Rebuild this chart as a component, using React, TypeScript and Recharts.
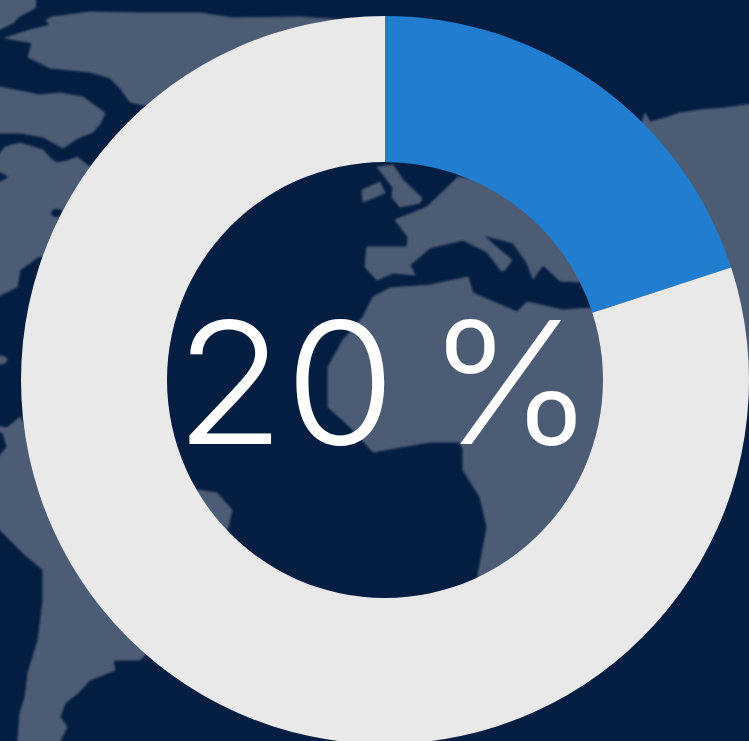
import { PieChart, Pie, Cell, Label } from 'recharts'

const segmentNames = ['Logrado', 'Restante']
const segmentValues = [20, 80]
const segmentColors = ['#217dd0', '#e9e9e9']

const NAVY = '#041e42'
const LAND = '#4e5c74'

// Mapa de fondo: solo decoración, en coordenadas de pantalla.
const landShapes = [
  // norte, arriba a la izquierda
  '-10,-10 37,-10 35,8 20,16 13,23 -10,34',
  '5,38 30,30 50,25 46,20 52,17 90,12 140,13 200,13 233,18 300,17 420,25 300,110 143,105 130,102 120,88 110,78 90,72 70,70 50,68 38,62 28,57 32,43',
  '-10,85 15,90 40,95 60,93 83,97 105,113 100,124 93,132 78,138 63,148 43,137 20,133 -10,133',
  '5,147 20,143 30,146 43,150 50,158 57,163 67,161 77,157 90,167 140,240 38,257 20,270 17,287 -10,300 -10,187 10,177 -10,167',
  // sudamérica
  '-10,425 7,428 20,417 33,440 200,600 140,660 113,660 115,670 90,680 78,693 65,703 60,717 67,727 55,751 17,751 20,713 25,697 28,673 38,640 43,600 43,570 23,553 10,540 -10,520 -10,467 7,447 3,433 -10,428',
  '197,490 217,493 232,510 228,528 226,530 150,530',
  // islas británicas
  '377,167 393,165 403,180 422,198 420,203 400,207 392,197 393,188 385,177',
  '362,190 380,182 385,193 363,202',
  // europa
  '395,220 427,207 458,177 480,180 620,120 640,250 580,282 560,281 543,265 533,279 527,263 513,243 483,235 500,250 512,260 505,270 502,270 502,272 487,252 463,240 430,248 410,265 415,275 393,273 377,280 365,267 367,247 407,247 408,237',
  // áfrica
  '363,317 373,297 390,288 430,285 468,277 473,293 517,312 527,302 563,310 590,308 640,330 700,560 480,600 478,575 487,527 480,497 463,470 463,450 460,442 430,442 373,452 350,427 328,407 328,367 343,340',
  // asia, arriba a la derecha
  '645,113 650,122 665,118 680,113 700,110 725,108 759,103 759,397 700,397 640,130',
]

export default function App() {
  return (
    <div style={{ position: 'fixed', left: 0, top: 0, width: 749, height: 741, overflow: 'hidden', background: NAVY }}>
      <svg width={749} height={741} style={{ position: 'absolute', left: 0, top: 0 }}>
        <defs>
          <filter id="suave" filterUnits="userSpaceOnUse" x={-20} y={-20} width={800} height={790}>
            <feGaussianBlur stdDeviation="1.3" />
          </filter>
        </defs>
        <g filter="url(#suave)" fill={LAND} stroke={LAND} strokeWidth={1} strokeLinejoin="round">
          {landShapes.map((pts, i) => <polygon key={i} points={pts} />)}
          <ellipse cx={1} cy={360} rx={6} ry={4} />
        </g>
        <ellipse cx={57} cy={213} rx={6} ry={4} fill={NAVY} filter="url(#suave)" />
      </svg>
      <div style={{ position: 'absolute', left: 0, top: 0 }}>
        <PieChart width={749} height={741} margin={{ top: 0, right: 0, bottom: 0, left: 0 }}>
          <Pie
            data={segmentNames.map((name, i) => ({ name, value: segmentValues[i] }))}
            dataKey="value"
            cx={385}
            cy={380}
            innerRadius={218}
            outerRadius={364}
            startAngle={90}
            endAngle={-270}
            stroke="none"
            isAnimationActive={false}
          >
            {segmentColors.map(c => <Cell key={c} fill={c} />)}
            <Label
              content={() => (
                <text x={385} y={444} textAnchor="middle" fill="#ffffff"
                  fontFamily="Inter, 'Open Sans', sans-serif" fontWeight={300} fontSize={170}
                  wordSpacing={-18} textLength={420} lengthAdjust="spacingAndGlyphs">
                  {`${segmentValues[0]} %`}
                </text>
              )}
            />
          </Pie>
        </PieChart>
      </div>
    </div>
  )
}
